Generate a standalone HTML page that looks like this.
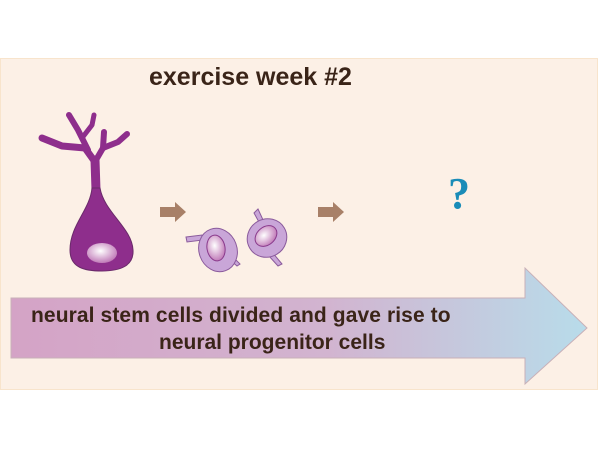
<!DOCTYPE html>
<html><head><style>
body{margin:0;width:600px;height:450px;background:#fff;position:relative;overflow:hidden;font-family:"Liberation Sans",sans-serif}
.panel{position:absolute;left:0;top:58px;width:598px;height:332px;background:#fcf0e6;border:1px solid #f8e4cc;box-sizing:border-box}
.t{position:absolute;font-weight:bold;color:#3a2418;white-space:nowrap}
</style></head><body>
<div class="panel"></div>
<svg width="600" height="450" style="position:absolute;left:0;top:0">
<defs>
<linearGradient id="g" x1="0" x2="1"><stop offset="0" stop-color="#d4a3c6"/><stop offset="0.55" stop-color="#d2b4d0"/><stop offset="1" stop-color="#b8dcea"/></linearGradient>
<radialGradient id="n" cx="0.45" cy="0.4" r="0.6"><stop offset="0" stop-color="#fff"/><stop offset="1" stop-color="#c07ab8"/></radialGradient>
</defs>
<polygon points="11,298 525,298 525,268 587,328 525,384 525,358 11,358" fill="url(#g)" stroke="#c8b0b8" stroke-width="1"/>
<g stroke="#8e2e8c" fill="none" stroke-linecap="round" stroke-linejoin="round">
<path d="M96,190 L95,160" stroke-width="9"/>
<path d="M95,162 L85,148 L62,146 L42,138" stroke-width="7"/>
<path d="M62,146 L52,142" stroke-width="5"/>
<path d="M88,150 L78,130 L69,115" stroke-width="6"/>
<path d="M82,138 L92,125 L94,115" stroke-width="5"/>
<path d="M96,160 L103,148 L104,132" stroke-width="6"/>
<path d="M103,148 L118,142 L127,134" stroke-width="6"/>
</g>
<path d="M92,188 C90,210 70,225 70,250 C70,268 85,271 102,271 C120,271 134,266 133,250 C132,228 104,212 100,188 Z" fill="#8e2e8c" stroke="#6a2a6a" stroke-width="1"/>
<ellipse cx="102" cy="253" rx="15" ry="10" fill="url(#n)"/>
<polygon points="160,207 175,207 175,202 186,212 175,222 175,217 160,217" fill="#a88068"/>
<polygon points="318,207 333,207 333,202 344,212 333,222 333,217 318,217" fill="#a88068"/>
<g fill="#c9a6d8" stroke="#8a5a9c" stroke-width="1">
<path d="M186,237 L202,235 L203,240 L187,242 Z"/>
<path d="M232,256 L240,264 L237,266 L229,259 Z"/>
<ellipse cx="218" cy="250" rx="19" ry="22" transform="rotate(-20 218 250)"/>
<path d="M254,213 L258,209 L264,222 L260,224 Z"/>
<path d="M272,252 L282,264 L278,266 L268,255 Z"/>
<ellipse cx="267" cy="238" rx="20" ry="19" transform="rotate(-30 267 238)"/>
</g>
<ellipse cx="216" cy="248" rx="9" ry="13" fill="url(#n)" stroke="#8a3a8c" transform="rotate(-10 216 248)"/>
<ellipse cx="266" cy="236" rx="12" ry="9" fill="url(#n)" stroke="#8a3a8c" transform="rotate(-40 266 236)"/>
</svg>
<div class="t" style="left:149px;top:63px;font-size:25px">exercise week #2</div>
<div class="t" style="left:448px;top:168px;font-size:44px;color:#1a8cb8;font-family:'Liberation Serif',serif">?</div>
<div class="t" style="left:31px;top:304px;font-size:21px;letter-spacing:0.1px">neural stem cells divided and gave rise to</div>
<div class="t" style="left:159px;top:331px;font-size:21px">neural progenitor cells</div>
</body></html>
